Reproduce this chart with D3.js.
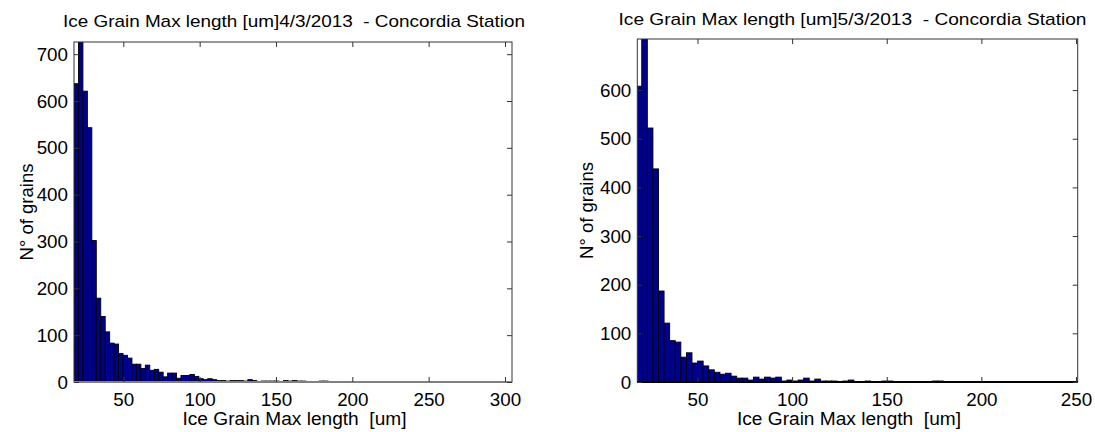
<!DOCTYPE html>
<html><head><meta charset="utf-8">
<script src="https://cdn.jsdelivr.net/npm/d3@7"></script>
<style>
html,body{margin:0;padding:0;background:#fff;}
svg text{font-family:"Liberation Sans",Arial,sans-serif;white-space:pre;}
</style></head>
<body>
<svg id="chart" width="1095" height="432"></svg>
<script>
// ---- data ----
const leftTitle = "Ice Grain Max length [um]4/3/2013  - Concordia Station";
const rightTitle = "Ice Grain Max length [um]5/3/2013  - Concordia Station";
const xLabel = "Ice Grain Max length  [um]";
const yLabel = "N° of grains";

const leftBinStart = 17.7, leftBinWidth = 2.92;
const leftCounts = [637, 760, 621, 543, 302, 179, 140, 107, 83, 81,
  61, 57, 51, 38, 38, 29, 36, 25, 27, 21,
  11, 19, 19, 8, 14, 14, 16, 12, 7, 5,
  7, 5, 3, 3, 2, 3, 3, 3, 2, 5,
  3, 1, 2, 2, 2, 2, 1, 3, 2, 3,
  2, 2, 1, 0, 1, 2, 2, 0, 0, 0,
  0, 0, 0, 0, 0, 0, 0, 0, 0, 0,
  0, 0, 0, 0, 0, 0, 0, 0, 0, 0,
  0, 0, 0, 0, 0, 0, 0, 0, 0, 0,
  0, 0, 0, 0, 0, 0, 0, 0, 0];
const leftXDomain = [17.7, 304.6];
const leftYMax = 726;
const leftXTicks = [50, 100, 150, 200, 250, 300];
const leftYTicks = [0, 100, 200, 300, 400, 500, 600, 700];

const rightBinStart = 17.6, rightBinWidth = 2.95;
const rightCounts = [608, 720, 522, 438, 187, 121, 85, 82, 51, 60,
  39, 43, 33, 25, 20, 16, 18, 12, 8, 8,
  4, 10, 6, 10, 8, 10, 2, 4, 2, 4,
  8, 2, 6, 2, 2, 2, 1, 2, 4, 1,
  0, 2, 1, 1, 2, 2, 0, 0, 1, 0,
  0, 0, 0, 2, 2, 0, 0, 0, 0, 0,
  0, 0, 0, 0, 0, 0, 0, 0, 0, 0,
  0, 0, 0, 0, 0, 0, 0, 0, 0, 0];
const rightXDomain = [18.2, 250.9];
const rightYMax = 705;
const rightXTicks = [50, 100, 150, 200, 250];
const rightYTicks = [0, 100, 200, 300, 400, 500, 600];

// ---- drawing ----
const svg = d3.select("#chart");

function drawPanel(o) {
  const g = svg.append("g");
  const x = d3.scaleLinear().domain(o.xDomain).range([o.left, o.right]);
  const y = d3.scaleLinear().domain([0, o.yMax]).range([o.bottom, o.top]);

  const clipId = "clip" + o.id;
  svg.append("clipPath").attr("id", clipId).append("rect")
    .attr("x", o.left).attr("y", o.top)
    .attr("width", o.right - o.left).attr("height", o.bottom - o.top);

  const bins = o.counts.map((c, i) => ({
    x0: o.binStart + i * o.binWidth,
    x1: o.binStart + (i + 1) * o.binWidth,
    c: c
  }));

  g.append("g").attr("clip-path", `url(#${clipId})`)
    .selectAll("rect").data(bins.filter(d => d.c > 0)).join("rect")
    .attr("x", d => x(d.x0))
    .attr("width", d => x(d.x1) - x(d.x0))
    .attr("y", d => y(d.c))
    .attr("height", d => y(0) - y(d.c))
    .attr("fill", "#00008f")
    .attr("stroke", "#000")
    .attr("stroke-width", 0.9);

  // box
  g.append("rect").attr("x", o.left).attr("y", o.top)
    .attr("width", o.right - o.left).attr("height", o.bottom - o.top)
    .attr("fill", "none").attr("stroke", "#333").attr("stroke-width", 1);
  g.append("line").attr("x1", o.left).attr("x2", o.right)
    .attr("y1", o.bottom).attr("y2", o.bottom)
    .attr("stroke", o.baseColor).attr("stroke-width", 2);

  const tl = 5;
  // bottom axis
  const xb = d3.axisBottom(x).tickValues(o.xTicks).tickSize(-tl).tickPadding(10).tickFormat(d3.format("d"));
  const gx = g.append("g").attr("transform", `translate(0,${o.bottom})`).call(xb);
  gx.select(".domain").remove();
  gx.selectAll("line").attr("stroke", "#333");
  gx.selectAll("text").attr("font-size", 18.8).attr("fill", "#000").attr("dy", "0.72em");
  const xt = d3.axisTop(x).tickValues(o.xTicks).tickSize(-tl).tickFormat("");
  const gxt = g.append("g").attr("transform", `translate(0,${o.top})`).call(xt);
  gxt.select(".domain").remove();
  gxt.selectAll("line").attr("stroke", "#333");

  // left axis
  const yl = d3.axisLeft(y).tickValues(o.yTicks).tickSize(-tl).tickPadding(6).tickFormat(d3.format("d"));
  const gy = g.append("g").attr("transform", `translate(${o.left},0)`).call(yl);
  gy.select(".domain").remove();
  gy.selectAll("line").attr("stroke", "#333");
  gy.selectAll("text").attr("font-size", 18.8).attr("fill", "#000");
  const yr = d3.axisRight(y).tickValues(o.yTicks).tickSize(-tl).tickFormat("");
  const gyr = g.append("g").attr("transform", `translate(${o.right},0)`).call(yr);
  gyr.select(".domain").remove();
  gyr.selectAll("line").attr("stroke", "#333");

  // title
  g.append("text").attr("x", o.titleX).attr("y", o.titleY)
    .attr("text-anchor", "middle").attr("font-size", 17)
    .attr("textLength", o.titleLen).attr("lengthAdjust", "spacingAndGlyphs")
    .text(o.title);
  // x label
  g.append("text").attr("x", o.xLabelX).attr("y", 425)
    .attr("text-anchor", "middle").attr("font-size", 17.5)
    .attr("textLength", 224).attr("lengthAdjust", "spacingAndGlyphs")
    .text(xLabel);
  // y label
  g.append("text")
    .attr("transform", `translate(${o.yLabelX},${(o.top + o.bottom) / 2}) rotate(-90)`)
    .attr("text-anchor", "middle").attr("font-size", 17.5)
    .attr("textLength", 97).attr("lengthAdjust", "spacingAndGlyphs")
    .text(yLabel);
}

drawPanel({
  id: "L", left: 74, right: 512, top: 42, bottom: 382,
  xDomain: leftXDomain, yMax: leftYMax,
  binStart: leftBinStart, binWidth: leftBinWidth, counts: leftCounts,
  xTicks: leftXTicks, yTicks: leftYTicks,
  title: leftTitle, titleX: 294, titleY: 26.5, titleLen: 462,
  xLabelX: 294.5, yLabelX: 33, baseColor: "#808080"
});
drawPanel({
  id: "R", left: 637.3, right: 1077.7, top: 39, bottom: 382,
  xDomain: rightXDomain, yMax: rightYMax,
  binStart: rightBinStart, binWidth: rightBinWidth, counts: rightCounts,
  xTicks: rightXTicks, yTicks: rightYTicks,
  title: rightTitle, titleX: 852.5, titleY: 25, titleLen: 468,
  xLabelX: 849, yLabelX: 593, baseColor: "#000"
});
</script>
</body></html>
